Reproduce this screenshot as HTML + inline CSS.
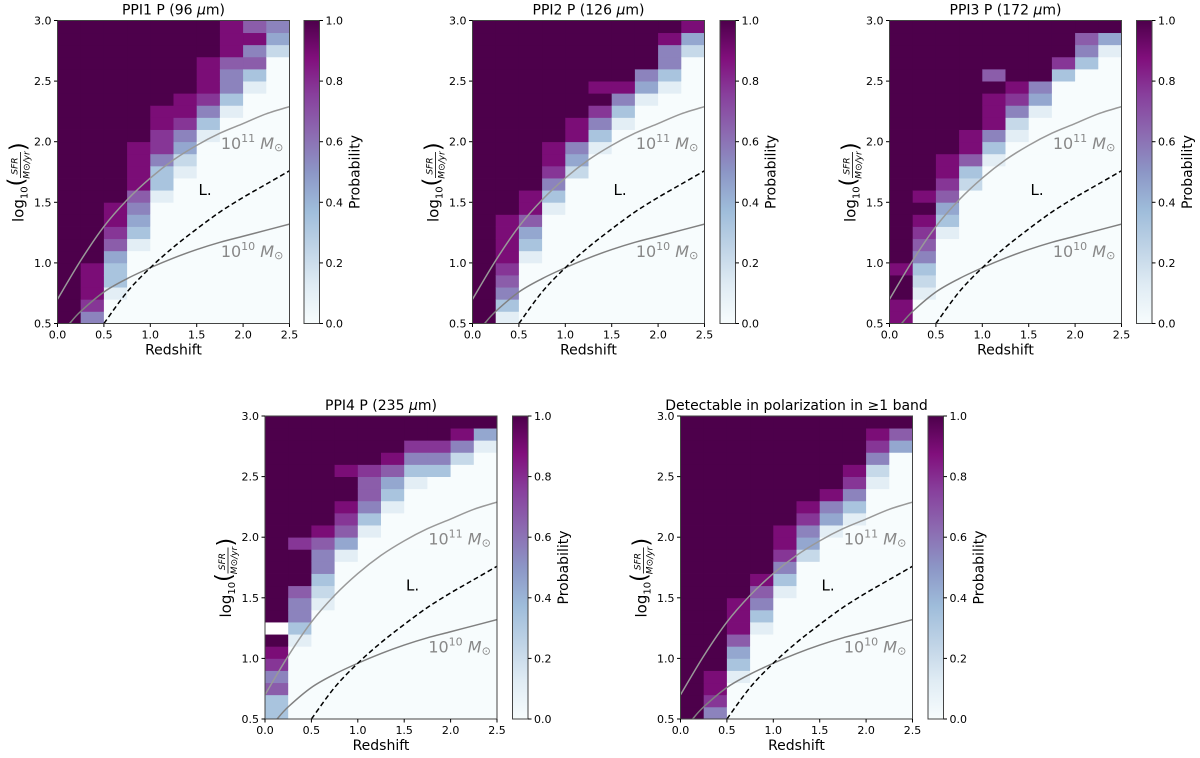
<!DOCTYPE html>
<html><head><meta charset="utf-8"><style>
html,body{margin:0;padding:0;background:#fff;}
svg{display:block;font-family:"DejaVu Sans","Liberation Sans",sans-serif;}
</style></head><body>
<svg id="fig" width="1200" height="758" viewBox="0 0 1200 758"></svg>
<script>
// ---- data: probability digits (0-9 -> d/9, '.' = blank), each column string runs from SFR=0.5 (bottom) upward in 0.1 steps
const zBins = [0,0.25,0.5,0.75,1.0,1.25,1.5,1.75,2.0,2.25];
const sfrBins = [0.5,0.6,0.7,0.8,0.9,1.0,1.1,1.2,1.3,1.4,1.5,1.6,1.7,1.8,1.9,2.0,2.1,2.2,2.3,2.4,2.5,2.6,2.7,2.8,2.9];
const ppi1 = [
"9999999999999999999999999",
"5788899999999999999999999",
"0013346788999999999999999",
"0000001345688889999999999",
"0000000000133577889999999",
"0000000000001245788999999",
"0000000000000001357888999",
"0000000000000000013556888",
"0000000000000000000136586",
"0000000000000000000000245"];
const ppi2 = [
"9999999999999999999999999",
"1356788889999999999999999",
"0000013468899999999999999",
"0000000001357889999999999",
"0000000000002458899999999",
"0000000000000013579899999",
"0000000000000000135899999",
"0000000000000000001459999",
"0000000000000000000135589",
"0000000000000000000000248"];
const ppi3 = [
"8899899999999999999999999",
"0012356789899999999999999",
"0000000134678899999999999",
"0000000000023688999999999",
"0000000000000135888969999",
"0000000000000001257899999",
"0000000000000000014599999",
"0000000000000000000037999",
"0000000000000000000003569",
"0000000000000000000000149"];
const ppi4 = [
"3365789.99999999999999999",
"0000001355699979999999999",
"0000000001235568999999999",
"0000000000000146789989999",
"0000000000000001356679999",
"0000000000000000013468999",
"0000000000000000000135799",
"0000000000000000000035799",
"0000000000000000000002589",
"0000000000000000000000149"];
const anyBand = [
"9999999999999999999999999",
"5788999999999999999999999",
"0001346888999999999999999",
"0000000135689999999999999",
"0000000000135788999999999",
"0000000000000245789999999",
"0000000000000001458999999",
"0000000000000000135789999",
"0000000000000000000125789",
"0000000000000000000000469"];
// curves (redshift, log SFR)
const m11z = [0,0.25,0.5,0.75,1.0,1.25,1.5,1.75,2.0,2.25,2.5];
const m11y = [0.70,1.02,1.30,1.52,1.70,1.85,1.97,2.07,2.15,2.23,2.29];
const m10z = [0.13,0.25,0.5,0.75,1.0,1.25,1.5,1.75,2.0,2.25,2.5];
const m10y = [0.50,0.60,0.76,0.87,0.96,1.04,1.11,1.17,1.22,1.27,1.32];
const lz = [0.5,0.75,1.0,1.25,1.5,1.75,2.0,2.25,2.5];
const ly = [0.50,0.76,0.96,1.13,1.28,1.42,1.54,1.65,1.76];
const xTicks = [0,0.5,1.0,1.5,2.0,2.5];
const yTicks = [0.5,1.0,1.5,2.0,2.5,3.0];
const cTicks = [0,0.2,0.4,0.6,0.8,1.0];

const panels = [
 {name:'ppi1', title:'PPI1 P (96 <tspan font-style="italic">μ</tspan>m)', data:ppi1, x0:57.5, y0:20.5, cbx:304},
 {name:'ppi2', title:'PPI2 P (126 <tspan font-style="italic">μ</tspan>m)', data:ppi2, x0:472.5, y0:20.5, cbx:720},
 {name:'ppi3', title:'PPI3 P (172 <tspan font-style="italic">μ</tspan>m)', data:ppi3, x0:889.5, y0:20.5, cbx:1136.5},
 {name:'ppi4', title:'PPI4 P (235 <tspan font-style="italic">μ</tspan>m)', data:ppi4, x0:265, y0:416, cbx:512.5},
 {name:'any-band', title:'Detectable in polarization in ≥1 band', data:anyBand, x0:680.5, y0:416, cbx:928}
];
const W=232, H=303, CBW=15.5;
const stops=[[0,[247,252,253]],[0.125,[224,236,244]],[0.25,[191,211,230]],[0.375,[158,188,218]],[0.5,[140,150,198]],[0.625,[140,107,177]],[0.75,[136,65,157]],[0.875,[129,15,124]],[1,[77,0,75]]];
function cmap(v){for(let i=1;i<stops.length;i++){if(v<=stops[i][0]){const a=stops[i-1],b=stops[i],t=(v-a[0])/(b[0]-a[0]);const c=a[1].map((x,k)=>Math.round(x+(b[1][k]-x)*t));return `rgb(${c})`;}}return 'rgb(77,0,75)';}
const NS='http://www.w3.org/2000/svg';
const svg=document.getElementById('fig');
function el(tag,attrs,parent){const e=document.createElementNS(NS,tag);for(const k in attrs)e.setAttribute(k,attrs[k]);(parent||svg).appendChild(e);return e;}
function smooth(pts){let d='M'+pts[0][0].toFixed(2)+','+pts[0][1].toFixed(2);for(let i=0;i<pts.length-1;i++){const p0=pts[i-1]||pts[i],p1=pts[i],p2=pts[i+1],p3=pts[i+2]||p2;const c1=[p1[0]+(p2[0]-p0[0])/6,p1[1]+(p2[1]-p0[1])/6],c2=[p2[0]-(p3[0]-p1[0])/6,p2[1]-(p3[1]-p1[1])/6];d+=` C${c1[0].toFixed(2)},${c1[1].toFixed(2)} ${c2[0].toFixed(2)},${c2[1].toFixed(2)} ${p2[0].toFixed(2)},${p2[1].toFixed(2)}`;}return d;}

panels.forEach(p=>{
  const g=el('g',{});
  
  
  const sx=z=>p.x0+z/2.5*W, sy=v=>p.y0+H-(v-0.5)/2.5*H;
  p.data.forEach((col,ci)=>{
    for(let ri=0;ri<col.length;ri++){
      const ch=col[ri];
      const z0=zBins[ci], s0=sfrBins[ri];
      const x1=sx(z0), x2=sx(z0+0.25), y1=sy(s0+0.1), y2=sy(s0);
      const r=el('rect',{x:x1.toFixed(2),y:y1.toFixed(2),width:(x2-x1+0.4).toFixed(2),height:(y2-y1+0.4).toFixed(2),fill:ch==='.'?'#ffffff':cmap(+ch/9)},g);
      
      
    }
  });
  const clip='c'+p.name;
  const cp=el('clipPath',{id:clip},g); el('rect',{x:p.x0,y:p.y0,width:W,height:H},cp);
  function curve(zs,ys,attrs,nm){const d=smooth(zs.map((z,i)=>[sx(z),sy(ys[i])]));const e=el('path',Object.assign({d:d,fill:'none','clip-path':`url(#${clip})`},attrs),g);}
  curve(m11z,m11y,{stroke:'#999','stroke-width':1.5},'mass-1e11-curve');
  curve(m10z,m10y,{stroke:'#808080','stroke-width':1.5},'mass-1e10-curve');
  curve(lz,ly,{stroke:'#000','stroke-width':1.5,'stroke-dasharray':'5,3'},'luminosity-limit-curve');
  const t11=el('text',{x:sx(1.76),y:sy(1.94),fill:'#888','font-size':16},g); t11.innerHTML='10<tspan dy="-7" font-size="11">11</tspan><tspan dy="7" font-style="italic"> M</tspan><tspan font-size="11" dy="2">⊙</tspan>';
   
  const t10=el('text',{x:sx(1.76),y:sy(1.05),fill:'#888','font-size':16},g); t10.innerHTML='10<tspan dy="-7" font-size="11">10</tspan><tspan dy="7" font-style="italic"> M</tspan><tspan font-size="11" dy="2">⊙</tspan>';
   
  const tl=el('text',{x:sx(1.52),y:sy(1.56),fill:'#000','font-size':15},g); tl.textContent='L.';
   
  const fr=el('rect',{x:p.x0,y:p.y0,width:W,height:H,fill:'none',stroke:'#444','stroke-width':1},g);
   
  xTicks.forEach(v=>{const x=sx(v);el('line',{x1:x,x2:x,y1:p.y0+H,y2:p.y0+H+3.5,stroke:'#000'},g);const t=el('text',{x:x,y:p.y0+H+15,'font-size':11,'text-anchor':'middle'},g);t.textContent=v.toFixed(1);});
  yTicks.forEach(v=>{const y=sy(v);el('line',{x1:p.x0-3.5,x2:p.x0,y1:y,y2:y,stroke:'#000'},g);const t=el('text',{x:p.x0-6,y:y+4,'font-size':11,'text-anchor':'end'},g);t.textContent=v.toFixed(1);});
  const xl=el('text',{x:p.x0+W/2,y:p.y0+H+31,'font-size':14,'text-anchor':'middle'},g); xl.textContent='Redshift';
   
  const tt=el('text',{x:p.x0+W/2,y:p.y0-6,'font-size':14,'text-anchor':'middle'},g); tt.innerHTML=p.title;
   
  const yg=el('g',{transform:`translate(${p.x0-34},${p.y0+H/2+50}) rotate(-90)`},g);
   
  const yt=el('text',{x:0,y:0,'font-size':15},yg); yt.innerHTML='log<tspan font-size="10" dy="4">10</tspan><tspan dy="-4" font-size="22">(</tspan>';
  const f1=el('text',{x:56,y:-6,'font-size':9,'font-style':'italic','text-anchor':'middle'},yg); f1.textContent='SFR';
  el('line',{x1:44,x2:70,y1:-3,y2:-3,stroke:'#000','stroke-width':0.8},yg);
  const f2=el('text',{x:57,y:6,'font-size':9,'font-style':'italic','text-anchor':'middle'},yg); f2.textContent='M⊙/yr';
  const cl=el('text',{x:71,y:2,'font-size':22},yg); cl.textContent=')';
  const gid='grad'+p.name;
  const lg=el('linearGradient',{id:gid,x1:0,y1:1,x2:0,y2:0},g);
  stops.forEach(s=>el('stop',{offset:s[0],'stop-color':`rgb(${s[1]})`},lg));
  const cb=el('rect',{x:p.cbx,y:p.y0,width:CBW,height:H,fill:`url(#${gid})`,stroke:'#444','stroke-width':1},g);
   
  cTicks.forEach(v=>{const y=p.y0+H-v*H;el('line',{x1:p.cbx+CBW,x2:p.cbx+CBW+3.5,y1:y,y2:y,stroke:'#000'},g);const t=el('text',{x:p.cbx+CBW+6,y:y+4,'font-size':11},g);t.textContent=v.toFixed(1);});
  const cbl=el('text',{transform:`translate(${p.cbx+CBW+40},${p.y0+H/2}) rotate(-90)`,'font-size':14,'text-anchor':'middle'},g); cbl.textContent='Probability';
   
});
</script>
</body></html>
